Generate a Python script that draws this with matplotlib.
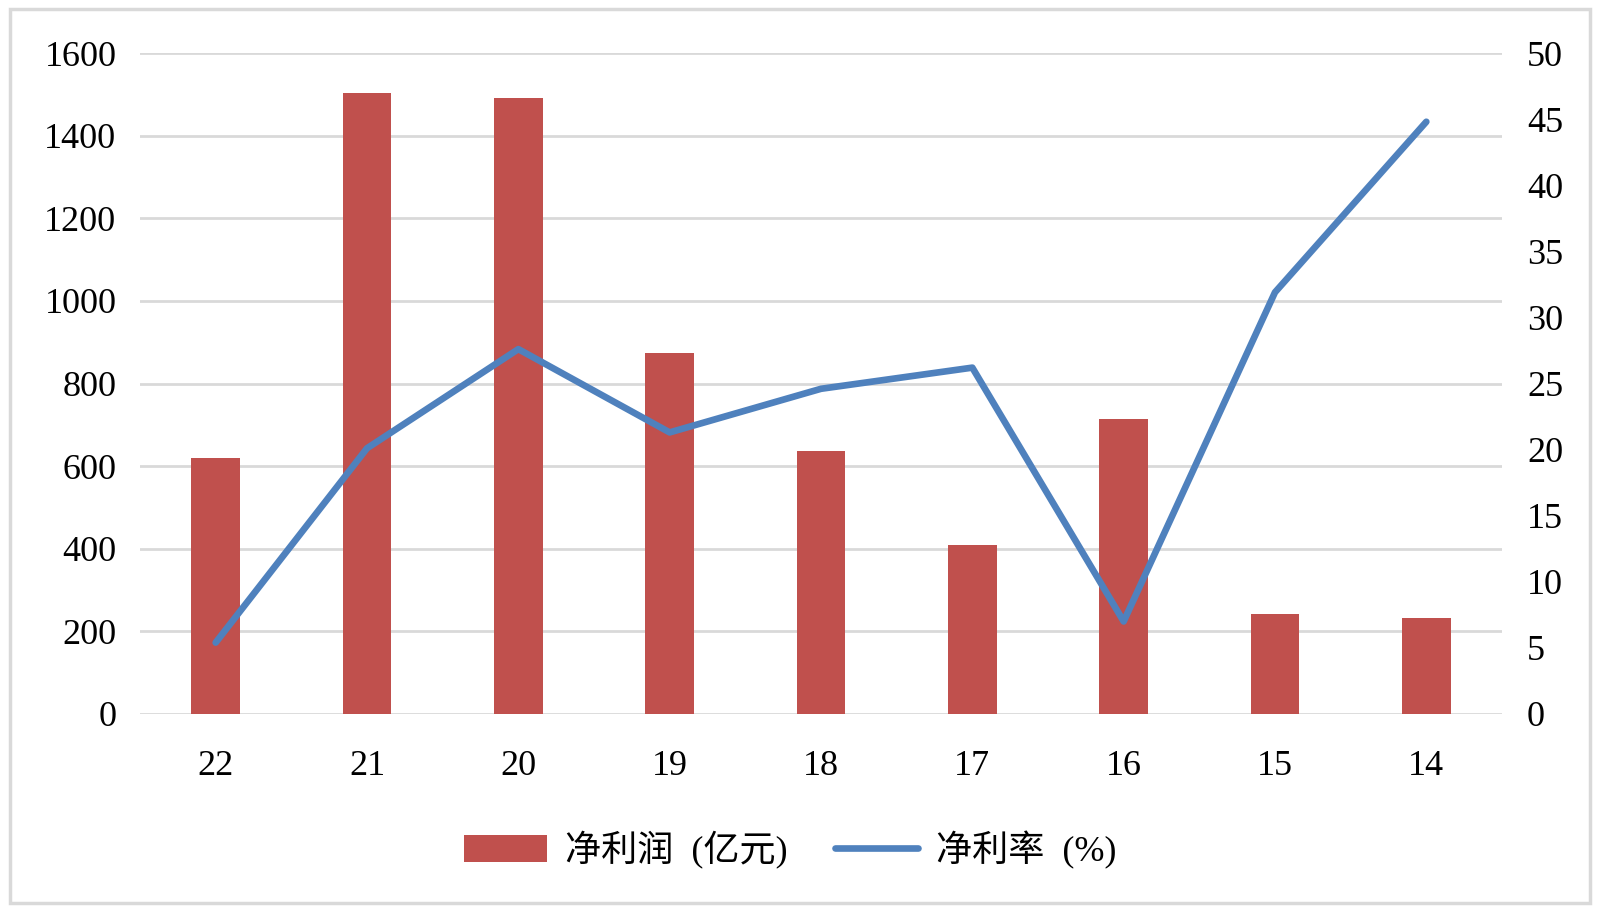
import matplotlib
matplotlib.use("Agg")
import matplotlib.pyplot as plt
from matplotlib.patches import Rectangle
import numpy as np

plt.rcParams['font.family'] = ['Liberation Serif', 'Noto Sans CJK SC']

categories = ['22', '21', '20', '19', '18', '17', '16', '15', '14']
profit = [620, 1502, 1492, 875, 637, 408, 714, 243, 233]
margin = [5.4, 20.1, 27.6, 21.3, 24.6, 26.2, 7.0, 31.9, 44.8]
left_ticks = [0, 200, 400, 600, 800, 1000, 1200, 1400, 1600]
right_ticks = [0, 5, 10, 15, 20, 25, 30, 35, 40, 45, 50]

fig = plt.figure(figsize=(16, 9.16), dpi=100)
fig.patches.append(Rectangle((0.006, 0.014), 0.988, 0.976, transform=fig.transFigure,
                             fill=False, edgecolor='#d9d9d9', linewidth=2.5))

ax = fig.add_axes([140/1600, 1 - 714/916, (1502-140)/1600, (714-53)/916])
x = np.arange(len(categories))
bar_color = '#c0504d'
line_color = '#4f81bd'

ax.bar(x, profit, width=0.32, color=bar_color, zorder=2, label='净利润  (亿元)')
ax.set_xlim(-0.5, len(categories) - 0.5)
ax.set_ylim(0, 1600)
ax.set_yticks(left_ticks)
ax.set_xticks(x)
ax.set_xticklabels(categories)
ax.yaxis.grid(True, color='#d9d9d9', linewidth=2)
ax.set_axisbelow(True)
for s in ax.spines.values():
    s.set_visible(False)
ax.tick_params(axis='both', length=0, labelsize=26, colors='black')
ax.tick_params(axis='x', pad=26)
ax.tick_params(axis='y', pad=17)

ax2 = ax.twinx()
ax2.plot(x, margin, color=line_color, linewidth=4.8, solid_capstyle='round', zorder=3,
         label='净利率  (%)')
ax2.set_ylim(0, 50)
ax2.set_yticks(right_ticks)
for s in ax2.spines.values():
    s.set_visible(False)
ax2.tick_params(axis='y', length=0, labelsize=26, pad=18)

h1, l1 = ax.get_legend_handles_labels()
h2, l2 = ax2.get_legend_handles_labels()
fig.legend(h1 + h2, l1 + l2, loc='center', bbox_to_anchor=(0.494, 1 - 850/916), ncol=2,
           frameon=False, fontsize=26, handlelength=2.3, handleheight=0.8,
           columnspacing=1.3, handletextpad=0.5)

fig.savefig('out.png', dpi=100)
